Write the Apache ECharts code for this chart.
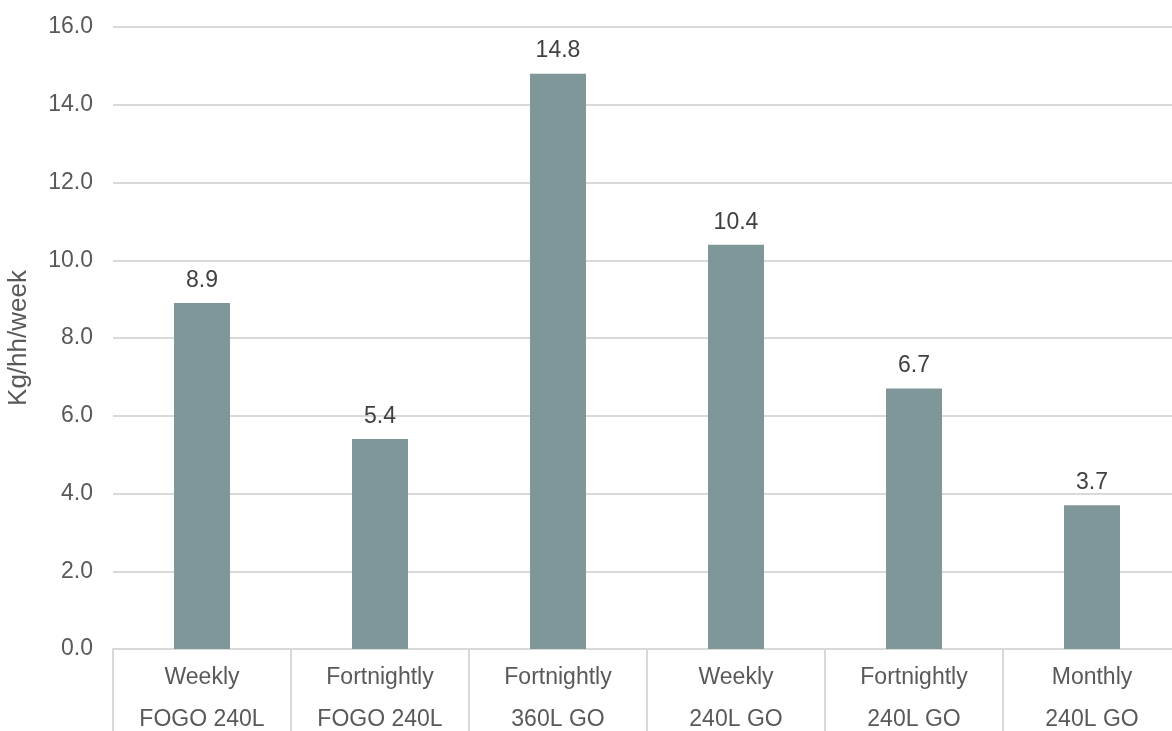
<!DOCTYPE html>
<html>
<head>
<meta charset="utf-8">
<script src="https://cdn.jsdelivr.net/npm/echarts@6/dist/echarts.min.js"></script>
<style>
  html, body { margin: 0; padding: 0; background: #ffffff; overflow: hidden; }
  #chart { width: 1172px; height: 731px; }
</style>
</head>
<body>
<div id="chart"></div>
<script>
// Collection service options (frequency + bin) and household yield per week
const categories = [
  'Weekly\nFOGO 240L',
  'Fortnightly\nFOGO 240L',
  'Fortnightly\n360L GO',
  'Weekly\n240L GO',
  'Fortnightly\n240L GO',
  'Monthly\n240L GO'
];
const kgPerHouseholdWeek = [8.9, 5.4, 14.8, 10.4, 6.7, 3.7];
const yAxisTitle = 'Kg/hh/week';

const chart = echarts.init(document.getElementById('chart'));
const textColor = '#595959';
const fontFamily = 'Liberation Sans, Arial, sans-serif';

chart.setOption({
  animation: false,
  textStyle: { fontFamily: fontFamily },
  // the plot runs slightly past the right edge of the canvas
  grid: {
    left: 113, right: -9, top: 27, bottom: 82,
    containLabel: false,
    outerBoundsMode: 'none'
  },
  xAxis: {
    type: 'category',
    data: categories,
    axisLine: { show: true, lineStyle: { color: '#d9d9d9', width: 2 } },
    axisTick: { show: true, length: 84, lineStyle: { color: '#d9d9d9', width: 2 } },
    axisLabel: {
      color: textColor,
      fontSize: 23,
      lineHeight: 42,
      margin: 8,
      fontFamily: fontFamily
    }
  },
  yAxis: {
    type: 'value',
    min: 0,
    max: 16,
    interval: 2,
    name: yAxisTitle,
    nameLocation: 'middle',
    nameGap: 81,
    nameRotate: 90,
    nameTextStyle: { color: textColor, fontSize: 26, fontFamily: fontFamily },
    axisLine: { show: false },
    axisTick: { show: false },
    axisLabel: {
      color: textColor,
      fontSize: 23,
      margin: 20,
      fontFamily: fontFamily,
      formatter: v => v.toFixed(1)
    },
    splitLine: { lineStyle: { color: '#d9d9d9', width: 2 } }
  },
  series: [{
    type: 'bar',
    data: kgPerHouseholdWeek,
    barWidth: 56,
    itemStyle: { color: '#7f9799' },
    label: {
      show: true,
      position: 'top',
      distance: 11,
      color: '#404040',
      fontSize: 23,
      fontFamily: fontFamily,
      formatter: p => p.value.toFixed(1)
    }
  }]
});
</script>
</body>
</html>
